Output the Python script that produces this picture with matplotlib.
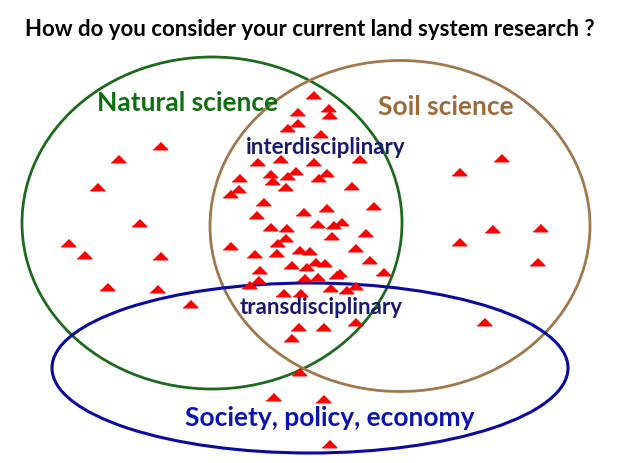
import matplotlib
matplotlib.use("Agg")
import matplotlib.pyplot as plt
from matplotlib.patches import Ellipse

# response positions (pixel coords, y downwards)
natural_x = [160, 118, 97, 139, 68, 84, 160, 107, 157, 190]
natural_y = [146, 159, 187, 223, 243, 255, 256, 287, 289, 304]

inter_x = [313, 328, 329, 297, 297, 287, 320,
           257, 280, 313, 359, 270, 295, 287, 326, 318, 239, 272, 238, 230, 285, 351,
           263, 326, 373, 303, 256, 317, 270, 286, 333, 341, 331, 365, 285, 277, 230,
           299, 309, 355, 254, 276, 291, 306, 315, 324, 369, 259, 383, 339, 336, 317,
           304, 258, 249, 283, 300, 330, 346, 355]
inter_y = [95, 108, 115, 112, 123, 128, 134,
           162, 159, 162, 159, 174, 171, 176, 173, 178, 178, 181, 189, 194, 187, 186,
           202, 208, 206, 212, 215, 224, 227, 228, 225, 222, 236, 233, 238, 243, 246,
           250, 251, 248, 254, 253, 265, 267, 262, 263, 260, 270, 272, 273, 275, 277,
           278, 280, 285, 293, 293, 288, 290, 286]

trans_x = [355, 298, 323, 291, 299, 273, 323, 329]
trans_y = [322, 327, 327, 338, 372, 397, 399, 444]

soil_x = [501, 459, 492, 540, 459, 537, 484]
soil_y = [158, 172, 229, 228, 242, 262, 322]

W, H = 637, 463
fig = plt.figure(figsize=(W / 100, H / 100), dpi=100)
ax = fig.add_axes([0, 0, 1, 1])
ax.set_xlim(0, W)
ax.set_ylim(H, 0)
ax.axis("off")

font = ["Lato", "DejaVu Sans"]

# the three sets
ax.add_patch(Ellipse((212, 223), 380, 332, fill=False, ec="#1c6b1c", lw=2))
ax.add_patch(Ellipse((400, 226), 380, 331, fill=False, ec="#a0784c", lw=2))
ax.add_patch(Ellipse((310, 368), 516, 170, fill=False, ec="#0a0aa0", lw=2.2))

flat_tri = [(-1, -0.45), (1, -0.45), (0, 0.55)]
all_x = natural_x + inter_x + trans_x + soil_x
all_y = natural_y + inter_y + trans_y + soil_y
ax.plot(all_x, all_y, ls="none", marker=flat_tri, ms=10.5, color="#ff0000", zorder=3)

ax.text(310, 30, "How do you consider your current land system research ?",
        ha="center", va="center", fontsize=16, fontweight="bold", color="black", family=font)
ax.text(188, 103, "Natural science", ha="center", va="center", fontsize=19,
        fontweight="bold", color="#0f6e0f", family=font, zorder=4)
ax.text(446, 107, "Soil science", ha="center", va="center", fontsize=19,
        fontweight="bold", color="#9c6b3c", family=font, zorder=4)
ax.text(326, 148, "interdisciplinary", ha="center", va="center", fontsize=16,
        fontweight="bold", color="#1a1a6e", family=font, zorder=4)
ax.text(321, 308, "transdisciplinary", ha="center", va="center", fontsize=16,
        fontweight="bold", color="#1a1a6e", family=font, zorder=4)
ax.text(330, 418, "Society, policy, economy", ha="center", va="center", fontsize=19,
        fontweight="bold", color="#0a14b4", family=font, zorder=4)

fig.savefig("out.png", dpi=100)
